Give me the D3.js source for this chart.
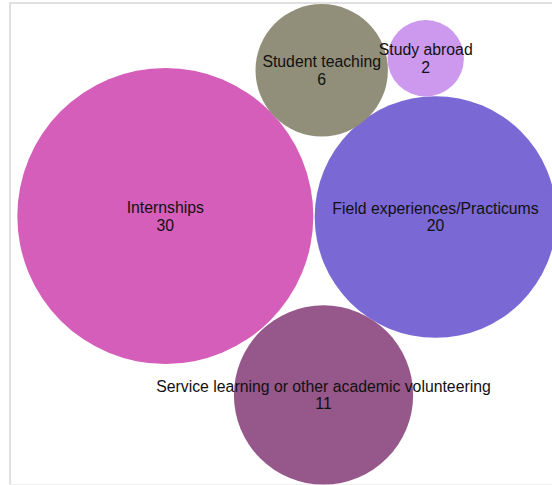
<!DOCTYPE html>
<html>
<head>
<meta charset="utf-8">
<script src="https://cdn.jsdelivr.net/npm/d3@7"></script>
<style>
  html, body { margin: 0; padding: 0; background: #fff; }
  svg { display: block; }
</style>
</head>
<body>
<svg id="chart" width="552" height="485"></svg>
<script>
// ---- data ----
const categories = ["Internships", "Field experiences/Practicums", "Student teaching", "Study abroad", "Service learning or other academic volunteering"];
const values = [30, 20, 6, 2, 11];
// bubble positions in chart units (0-100 on each hidden axis)
const xVals = [29.95, 78.9, 58.28, 77.12, 58.61];
const yVals = [44.54, 44.74, 14.49, 12.02, 81.44];
const colors = ["#d55eba", "#7a68d5", "#918e79", "#cc99ee", "#96578a"];

const W = 552, H = 485;
const svg = d3.select("#chart");

// frame
svg.append("line").attr("x1", 10).attr("x2", 10).attr("y1", 2).attr("y2", 485)
  .attr("stroke", "#e0e0e0").attr("stroke-width", 2);
svg.append("line").attr("x1", 9).attr("x2", W).attr("y1", 3).attr("y2", 3)
  .attr("stroke", "#e0e0e0").attr("stroke-width", 2);
svg.append("line").attr("x1", 9).attr("x2", W).attr("y1", 484.5).attr("y2", 484.5)
  .attr("stroke", "#efefef").attr("stroke-width", 1);

const x = d3.scaleLinear().domain([0, 100]).range([0, W]);
const y = d3.scaleLinear().domain([0, 100]).range([0, H]);
const r = d3.scaleSqrt().domain([0, 30]).range([0, 148]);

const data = categories.map((c, i) => ({ c, v: values[i], x: xVals[i], y: yVals[i], col: colors[i] }));

const g = svg.append("g");
g.selectAll("circle").data(data).join("circle")
  .attr("cx", d => x(d.x)).attr("cy", d => y(d.y)).attr("r", d => r(d.v))
  .attr("fill", d => d.col);

const labels = svg.append("g")
  .attr("font-family", "Liberation Sans, Arial, sans-serif")
  .attr("font-size", 15.8).attr("fill", "#111").attr("text-anchor", "middle");
const t = labels.selectAll("text").data(data).join("text")
  .attr("x", d => x(d.x)).attr("y", d => y(d.y));
t.append("tspan").attr("x", d => x(d.x)).attr("dy", -3).text(d => d.c);
t.append("tspan").attr("x", d => x(d.x)).attr("dy", 17.5).text(d => d.v);
</script>
</body>
</html>
